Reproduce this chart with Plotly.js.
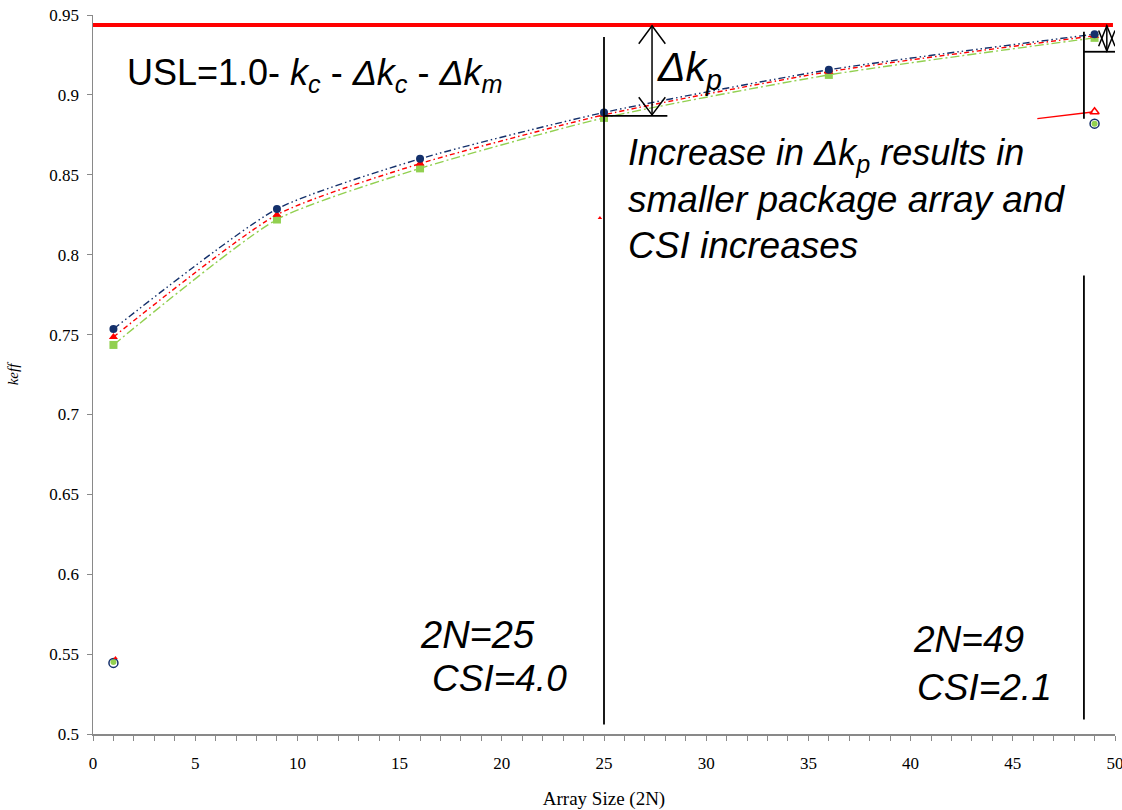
<!DOCTYPE html>
<html>
<head>
<meta charset="utf-8">
<script src="https://cdn.plot.ly/plotly-3.0.1.min.js"></script>
<style>html,body{margin:0;padding:0;background:#fff;}#chart{width:1122px;height:810px;}</style>
</head>
<body>
<div id="chart"></div>
<script>
// Array sizes (2N)
const arraySize = [1, 9, 16, 25, 36, 49];
// keff series
const keffNavy  = [0.7535, 0.8286, 0.8600, 0.8890, 0.9157, 0.9380];
const keffRed   = [0.7485, 0.8250, 0.8570, 0.8875, 0.9145, 0.9370];
const keffGreen = [0.7435, 0.8220, 0.8540, 0.8856, 0.9125, 0.9357];
// USL level
const uslX = [0, 49.9];
const uslY = [0.9438, 0.9438];
// Isolated points
const lowX = [1];
const lowNavy = [0.5445];
const lowGreen = [0.5450];
const lowRedX = [1.1];
const lowRed = [0.5475];
const highX = [49];
const highNavy = [0.8820];
const highGreen = [0.8820];
const highRed = [0.8895];
const midRedX = [24.8];
const midRed = [0.8230];
const redSegX = [46.2, 48.9];
const redSegY = [0.8852, 0.8893];
// Axis ticks
const yTickVals = [0.5, 0.55, 0.6, 0.65, 0.7, 0.75, 0.8, 0.85, 0.9, 0.95];
const yTickText = ['0.5', '0.55', '0.6', '0.65', '0.7', '0.75', '0.8', '0.85', '0.9', '0.95'];
const xTickVals = [0, 5, 10, 15, 20, 25, 30, 35, 40, 45, 50];

const navy = '#14306b', red = '#ff0000', green = '#92d050';

const traces = [
  {x: uslX, y: uslY, mode: 'lines', line: {color: red, width: 4}, hoverinfo: 'skip'},
  {x: arraySize, y: keffGreen, mode: 'lines+markers', line: {color: green, width: 1.4, dash: '9px,3px,2px,3px', shape: 'spline', smoothing: 0.6},
   marker: {symbol: 'square', size: 8, color: green}},
  {x: arraySize, y: keffRed, mode: 'lines+markers', line: {color: red, width: 1.4, dash: '5px,3px,1.5px,3px', shape: 'spline', smoothing: 0.6},
   marker: {symbol: 'triangle-up', size: 8, color: red}},
  {x: arraySize, y: keffNavy, mode: 'lines+markers', line: {color: navy, width: 1.4, dash: '7px,3px,1.5px,3px,1.5px,3px', shape: 'spline', smoothing: 0.6},
   marker: {symbol: 'circle', size: 8, color: navy}},
  {x: redSegX, y: redSegY, mode: 'lines', line: {color: red, width: 1.3}},
  {x: lowX, y: lowGreen, mode: 'markers', marker: {symbol: 'circle', size: 6, color: green}},
  {x: lowX, y: lowNavy, mode: 'markers', marker: {symbol: 'circle-open', size: 9, color: navy, line: {width: 1.5}}},
  {x: lowRedX, y: lowRed, mode: 'markers', marker: {symbol: 'triangle-up', size: 4, color: red}},
  {x: highX, y: highGreen, mode: 'markers', marker: {symbol: 'circle', size: 6, color: green}},
  {x: highX, y: highNavy, mode: 'markers', marker: {symbol: 'circle-open', size: 9, color: navy, line: {width: 1.5}}},
  {x: highX, y: highRed, mode: 'markers', marker: {symbol: 'triangle-up-open', size: 8, color: red, line: {width: 1.5}}},
  {x: midRedX, y: midRed, mode: 'markers', marker: {symbol: 'triangle-up', size: 4, color: red}}
];

const blk = {color: '#000', width: 1.8};
const shapes = [
  {type: 'line', xref: 'x', yref: 'y', x0: 25, x1: 25, y0: 0.9363, y1: 0.506, line: blk},
  {type: 'line', xref: 'x', yref: 'y', x0: 25, x1: 28.1, y0: 0.8869, y1: 0.8869, line: blk},
  // big double arrow
  {type: 'line', xref: 'x', yref: 'y', x0: 27.35, x1: 27.35, y0: 0.9433, y1: 0.8875, line: {color: '#000', width: 1.5}},
  {type: 'path', xref: 'x', yref: 'y', path: 'M 26.7,0.932 L 27.35,0.9433 L 28.0,0.932', line: {color: '#000', width: 1.5}},
  {type: 'path', xref: 'x', yref: 'y', path: 'M 26.7,0.8985 L 27.35,0.8875 L 28.0,0.8985', line: {color: '#000', width: 1.5}},
  // right side lines
  {type: 'line', xref: 'x', yref: 'y', x0: 48.48, x1: 48.48, y0: 0.9395, y1: 0.885, line: blk},
  {type: 'line', xref: 'x', yref: 'y', x0: 48.48, x1: 50, y0: 0.927, y1: 0.927, line: blk},
  {type: 'line', xref: 'x', yref: 'y', x0: 48.48, x1: 48.48, y0: 0.787, y1: 0.509, line: blk},
  // small double arrow
  {type: 'line', xref: 'x', yref: 'y', x0: 49.6, x1: 49.6, y0: 0.9433, y1: 0.9275, line: {color: '#000', width: 1.5}},
  {type: 'path', xref: 'x', yref: 'y', path: 'M 49.2,0.9305 L 49.6,0.9433 L 50.0,0.9305', line: {color: '#000', width: 1.5}},
  {type: 'path', xref: 'x', yref: 'y', path: 'M 49.2,0.9403 L 49.6,0.9275 L 50.0,0.9403', line: {color: '#000', width: 1.5}}
];

const sans = 'Liberation Sans, Arial, sans-serif';
function ann(x, y, text, size) {
  return {x: x, y: y, xref: 'x', yref: 'y', text: text, showarrow: false, xanchor: 'left', yanchor: 'middle',
          font: {family: sans, size: size, color: '#000'}};
}
const annotations = [
  ann(1.57, 0.9125, 'USL=1.0- <i>k</i><sub><i>c</i></sub> - <i>Δk</i><sub><i>c</i></sub> - <i>Δk</i><sub><i>m</i></sub>', 36),
  ann(27.5, 0.9157, '<i>Δk</i><sub><i>p</i></sub>', 41),
  ann(26.1, 0.8625, '<i>Increase in Δk</i><sub><i>p</i></sub><i> results in</i>', 36),
  ann(26.1, 0.8343, '<i>smaller package array and</i>', 37),
  ann(26.1, 0.8060, '<i>CSI increases</i>', 37),
  ann(15.9, 0.5620, '<i>2N=25</i>', 38),
  ann(16.5, 0.5350, '<i>CSI=4.0</i>', 37),
  ann(40.0, 0.5590, '<i>2N=49</i>', 37),
  ann(40.2, 0.5290, '<i>CSI=2.1</i>', 37)
];

const serif = 'Liberation Serif, Times New Roman, serif';
const layout = {
  width: 1122, height: 810,
  margin: {l: 93, r: 7, t: 15, b: 76},
  paper_bgcolor: '#fff', plot_bgcolor: '#fff',
  showlegend: false,
  font: {family: serif, size: 16, color: '#000'},
  xaxis: {
    range: [0, 50], tickvals: xTickVals, showgrid: false, zeroline: false,
    showline: true, linecolor: '#898989', linewidth: 1.5,
    ticks: 'outside', ticklen: 5, tickcolor: '#898989', tickwidth: 1,
    minor: {dtick: 1, ticks: 'outside', ticklen: 5, tickcolor: '#898989', tickwidth: 1, showgrid: false},
    tickfont: {family: serif, size: 17}, ticklabeloverflow: 'allow', ticklabelstandoff: 8,
    title: {text: 'Array Size (2N)', font: {family: serif, size: 19}, standoff: 24}
  },
  yaxis: {
    range: [0.5, 0.95], tickvals: yTickVals, ticktext: yTickText, showgrid: false, zeroline: false,
    showline: true, linecolor: '#898989', linewidth: 1.5,
    ticks: 'outside', ticklen: 5, tickcolor: '#898989', tickwidth: 1,
    tickfont: {family: serif, size: 17}, ticklabelstandoff: 4,
    title: {text: '<i>keff</i>', font: {family: serif, size: 15}, standoff: 27}
  },
  shapes: shapes,
  annotations: annotations
};

Plotly.newPlot('chart', traces, layout, {displayModeBar: false, staticPlot: true});
</script>
</body>
</html>
